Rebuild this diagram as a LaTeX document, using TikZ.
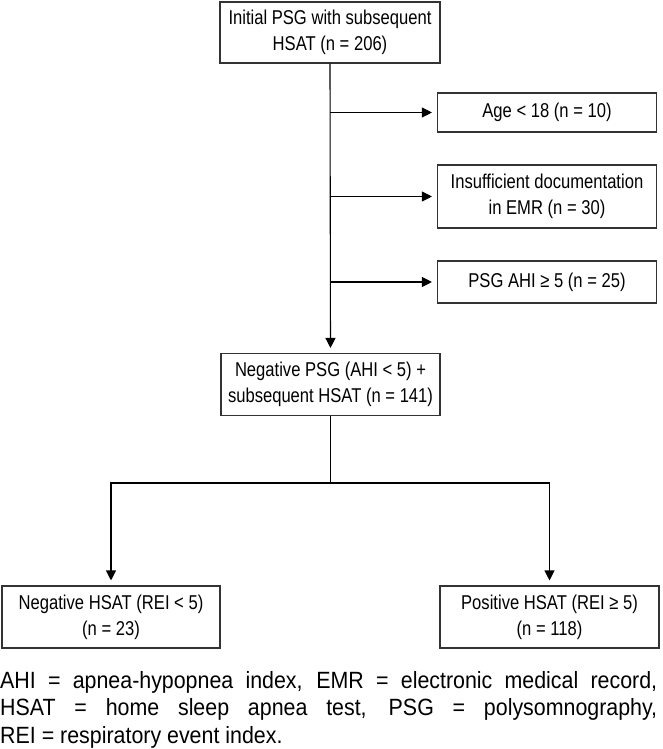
\documentclass[tikz,border=0pt]{standalone}
\usepackage{fontspec}
\usetikzlibrary{arrows.meta}
\setmainfont{Liberation Sans}
\newfontfamily\boxface{Liberation Sans}[FakeStretch=0.83,Ligatures=CommonOff]
\newfontfamily\capface{Liberation Sans}[FakeStretch=0.91,Ligatures=CommonOff]
\newcommand\boxfont{\boxface\fontsize{20}{26}\selectfont}
\newcommand\capfont{\capface\fontsize{23.5}{27.5}\selectfont}
\tikzset{
  box/.style={draw=black!80, line width=1.1pt, minimum width=219pt, align=center, inner sep=0pt, font=\boxfont},
  link/.style={line width=1.1pt, draw=black},
  arr/.style={link, -{Triangle[length=10pt,width=10pt]}, shorten >=5pt}
}
\begin{document}
\begin{tikzpicture}[x=1pt,y=-1pt]
\useasboundingbox (0,0) rectangle (662,749);
\node[box, minimum width=220pt, minimum height=61pt] (top) at (330,32.5) {Initial PSG with subsequent\\HSAT (n = 206)};
\node[box, minimum height=39pt] (age) at (547,112.5) {Age < 18 (n = 10)};
\node[box, minimum height=63pt] (ins) at (547,196.5) {Insufficient documentation\\in EMR (n = 30)};
\node[box, minimum height=42pt] (ahi) at (547,282) {PSG AHI ≥ 5 (n = 25)};
\node[box, minimum height=62pt] (neg) at (330.5,384.5) {Negative PSG (AHI < 5) +\\subsequent HSAT (n = 141)};
\node[box, minimum width=218pt, minimum height=62pt] (negH) at (111,617) {Negative HSAT (REI < 5)\\(n = 23)};
\node[box, minimum height=62pt] (posH) at (549.5,617) {Positive HSAT (REI ≥ 5)\\(n = 118)};
\draw[arr] (top.south) -- (neg.north);
\draw[arr] (top.south |- age.west) -- (age.west);
\draw[arr] (top.south |- ins.west) -- (ins.west);
\draw[arr] (top.south |- ahi.west) -- (ahi.west);
\coordinate (br) at (330.5,483);
\draw[link] (neg.south) -- (br);
\draw[arr] (br) -| (negH.north);
\draw[arr] (br) -| (posH.north);
\node[anchor=north west, text width=657pt, inner sep=0pt, align=justify, font=\capfont] (cap) at (0,671)
 {\tolerance=10000\hyphenpenalty=10000 AHI = apnea-hypopnea index, EMR = electronic medical record,\linebreak HSAT = home sleep apnea test, PSG = polysomnography,\linebreak REI = respiratory event index.};
\end{tikzpicture}
\end{document}
